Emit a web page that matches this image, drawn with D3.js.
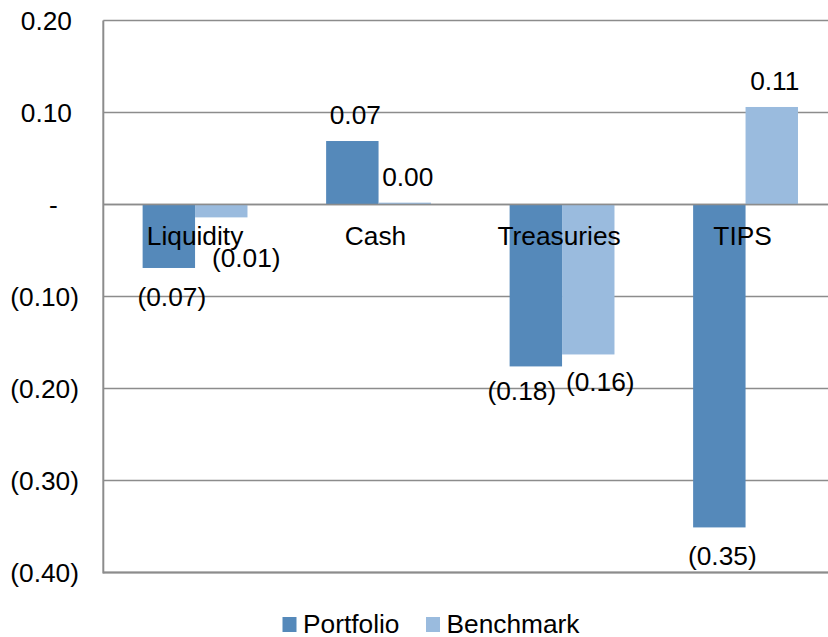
<!DOCTYPE html>
<html lang="en">
  <head>
    <meta charset="utf-8">
    <title>Portfolio vs Benchmark</title>
    <style>
      body { margin: 0; background: #fff; }
      svg text { font-family: "Liberation Sans", Arial, sans-serif; fill: #000; }
    </style>
  </head>
  <body>
    <svg width="828" height="637"></svg>
    <script src="https://d3js.org/d3.v7.min.js"></script>
    <script>
      // data
      var categories = ["Liquidity", "Cash", "Treasuries", "TIPS"];
      var portfolio = [-0.069, 0.069, -0.176, -0.351];
      var benchmark = [-0.014, 0.002, -0.163, 0.106];
      var seriesNames = ["Portfolio", "Benchmark"];
      var yTicks = [0.2, 0.1, 0, -0.1, -0.2, -0.3, -0.4];

      var colors = ["#5589BA", "#9ABBDE"];
      var fontSize = "26.3px";
      var svg = d3.select("svg");
      var left = 103.3, bandW = 183.5;

      var x = d3.scaleBand().domain(categories).range([left, left + bandW * 4]).padding(0);
      var y = d3.scaleLinear().domain([-0.4, 0.2]).range([572.5, 20.5]);
      var barW = bandW / 3.5;

      var axisFmt = v => {
        if (Math.abs(v) < 1e-9) return "-";
        var s = Math.abs(v).toFixed(2);
        return v < 0 ? "(" + s + ")" : s;
      };
      var labelFmt = v => v < 0 ? "(" + (-v).toFixed(2) + ")" : v.toFixed(2);

      // gridlines
      svg.append("g")
        .selectAll("line")
        .data(yTicks)
        .enter()
        .append("line")
        .attr("x1", left)
        .attr("x2", 840)
        .attr("y1", d => y(d))
        .attr("y2", d => y(d))
        .attr("stroke", "#8c8c8c")
        .attr("stroke-width", 1.6);

      // y axis labels
      svg.append("g")
        .selectAll("text")
        .data(yTicks)
        .enter()
        .append("text")
        .attr("x", d => d === 0 ? 53.5 : (d < 0 ? 79 : 72))
        .attr("y", d => y(d))
        .attr("dy", "0.36em")
        .attr("text-anchor", d => d === 0 ? "middle" : "end")
        .style("font-size", fontSize)
        .text(axisFmt);

      var bars = [];
      categories.forEach((c, i) => {
        bars.push({ cat: c, s: 0, v: portfolio[i] });
        bars.push({ cat: c, s: 1, v: benchmark[i] });
      });

      svg.append("g")
        .selectAll("rect")
        .data(bars)
        .enter()
        .append("rect")
        .attr("x", d => x(d.cat) + bandW / 2 - barW + d.s * barW)
        .attr("width", barW)
        .attr("y", d => Math.min(y(d.v), y(0)))
        .attr("height", d => Math.abs(y(d.v) - y(0)))
        .attr("fill", d => colors[d.s]);

      // zero line and axis lines over the bars
      svg.append("line")
        .attr("x1", left).attr("x2", 840)
        .attr("y1", y(0)).attr("y2", y(0))
        .attr("stroke", "#8c8c8c").attr("stroke-width", 1.6);
      svg.append("line")
        .attr("x1", left).attr("x2", left)
        .attr("y1", y(0.2)).attr("y2", y(-0.4) + 1)
        .attr("stroke", "#8c8c8c").attr("stroke-width", 2);
      svg.append("line")
        .attr("x1", left).attr("x2", 840)
        .attr("y1", y(-0.4)).attr("y2", y(-0.4))
        .attr("stroke", "#8c8c8c").attr("stroke-width", 2);

      // category labels
      svg.append("g")
        .selectAll("text")
        .data(categories)
        .enter()
        .append("text")
        .attr("x", d => x(d) + bandW / 2 - (d === "Liquidity" ? 0 : 3))
        .attr("y", 245)
        .attr("text-anchor", "middle")
        .style("font-size", fontSize)
        .text(d => d);

      // value labels, a few nudged the way the original avoided overlaps
      var nudge = {
        "Liquidity1": [22, 12],
        "Treasuries0": [-17, -4],
        "Treasuries1": [9, -1]
      };
      svg.append("g")
        .selectAll("text")
        .data(bars)
        .enter()
        .append("text")
        .attr("x", d => {
          var n = nudge[d.cat + d.s] || [0, 0];
          return x(d.cat) + bandW / 2 - barW / 2 + d.s * barW + 3 + n[0];
        })
        .attr("y", d => {
          var n = nudge[d.cat + d.s] || [0, 0];
          return y(d.v) + (d.v < 0 ? 28.5 : -26) + n[1];
        })
        .attr("dy", "0.36em")
        .attr("text-anchor", "middle")
        .style("font-size", fontSize)
        .text(d => labelFmt(d.v));

      // legend
      var legend = svg.append("g").attr("transform", "translate(282.5,617)");
      var lx = [0, 143.5];
      seriesNames.forEach((name, i) => {
        legend.append("rect")
          .attr("x", lx[i]).attr("y", 0)
          .attr("width", 14).attr("height", 15)
          .attr("fill", colors[i]);
        legend.append("text")
          .attr("x", lx[i] + 20.5)
          .attr("y", 15.5)
          .style("font-size", fontSize)
          .text(name);
      });
    </script>
  </body>
</html>
